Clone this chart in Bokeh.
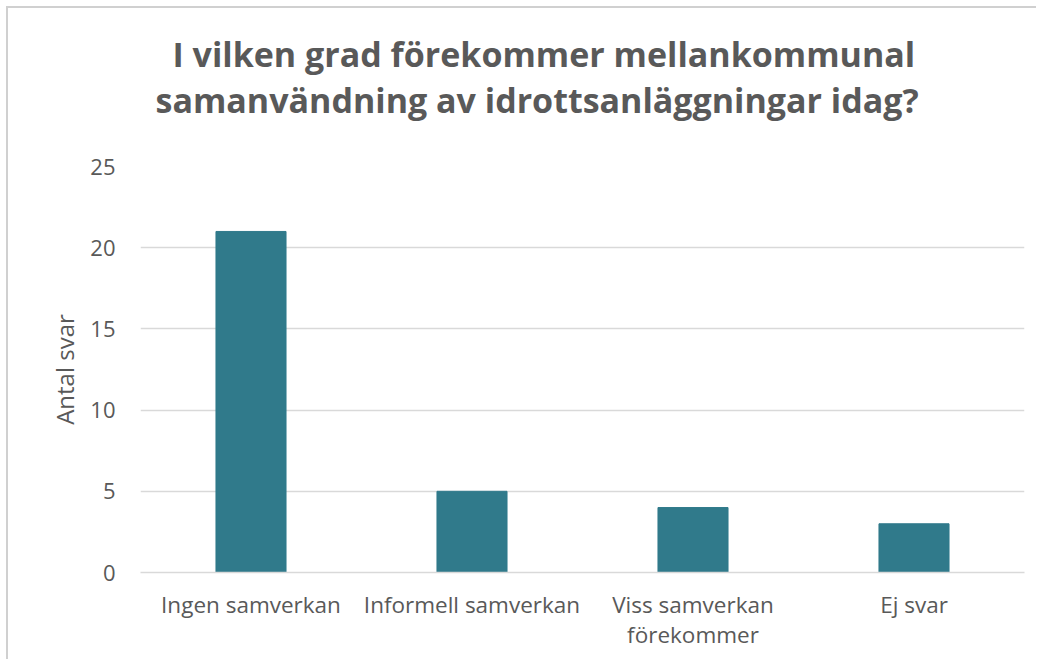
from bokeh.plotting import figure
from bokeh.models import Range1d, Title
from bokeh.embed import file_html
from bokeh.resources import INLINE

categories = ["Ingen samverkan", "Informell samverkan", "Viss samverkan\nförekommer", "Ej svar"]
values = [21, 5, 4, 3]
y_ticks = [0, 5, 10, 15, 20, 25]
title_lines = ["I vilken grad förekommer mellankommunal",
               "samanvändning av idrottsanläggningar idag?"]
y_label = "Antal svar"

TEXT = "#595959"
FONT = "Open Sans"

p = figure(x_range=categories, y_range=Range1d(0, 25), width=1030, height=653,
           output_backend="svg", toolbar_location=None,
           min_border_left=132, min_border_right=14, min_border_top=158, min_border_bottom=89)
p.styles = {"margin-top": "6px", "margin-left": "6px",
            "border-top": "2px solid #d0d0d0", "border-left": "2px solid #d0d0d0"}

p.vbar(x=categories, top=values, width=0.317, color="#307A8B")

p.outline_line_color = None
p.xgrid.grid_line_color = None
p.ygrid.grid_line_color = "#d9d9d9"
p.ygrid.grid_line_width = 1.5
p.ygrid.ticker = y_ticks

p.yaxis.ticker = y_ticks
p.yaxis.axis_line_color = None
p.yaxis.major_tick_line_color = None
p.yaxis.minor_tick_line_color = None
p.yaxis.major_label_text_font = FONT
p.yaxis.major_label_text_font_size = "22px"
p.yaxis.major_label_text_color = TEXT
p.yaxis.major_label_standoff = 19
p.yaxis.axis_label = y_label
p.yaxis.axis_label_text_font = FONT
p.yaxis.axis_label_text_font_size = "24px"
p.yaxis.axis_label_text_font_style = "normal"
p.yaxis.axis_label_text_color = TEXT
p.yaxis.axis_label_standoff = 6

p.xaxis.axis_line_color = "#d9d9d9"
p.xaxis.axis_line_width = 1.5
p.xaxis.major_tick_line_color = None
p.xaxis.minor_tick_line_color = None
p.xaxis.major_label_text_font = FONT
p.xaxis.major_label_text_font_size = "22.5px"
p.xaxis.major_label_text_color = TEXT
p.xaxis.major_label_text_line_height = 0.97
p.xaxis.major_label_standoff = 10

# blank spacer title between the frame and the two title lines
p.add_layout(Title(text=" ", text_font_size="1px", standoff=41), "above")
# later-added titles go further up; line 2 is added first (closest to the frame)
for line, off, so in [(title_lines[1], 15, 0), (title_lines[0], 32, -5)]:
    p.add_layout(Title(text=line, align="left", offset=off, standoff=so,
                       text_font=FONT, text_font_style="bold", text_font_size="34px",
                       text_color=TEXT), "above")

open("out.html", "w").write(file_html(p, INLINE))
